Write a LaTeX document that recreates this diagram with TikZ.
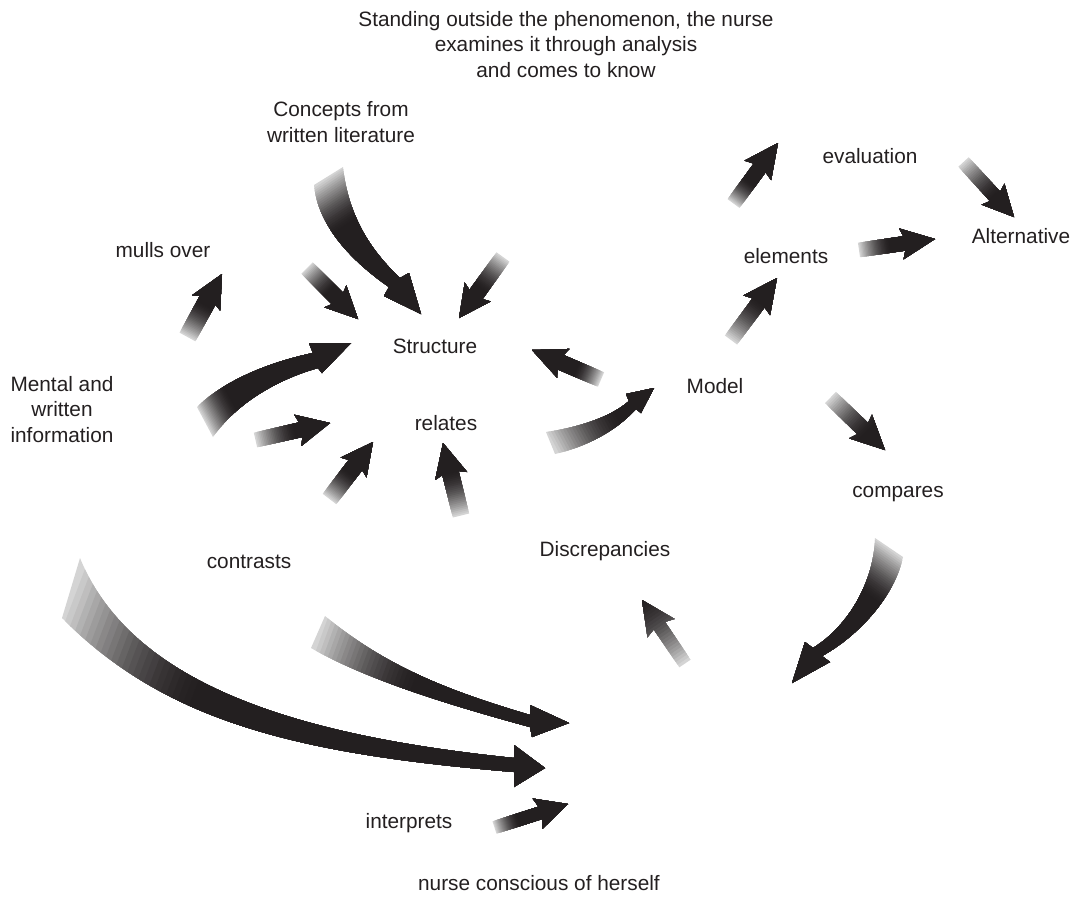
\documentclass[tikz,border=0pt]{standalone}
\usepackage{fontspec}
\setmainfont{Liberation Sans}
\usetikzlibrary{calc}
\definecolor{txtc}{RGB}{35,31,32}
\definecolor{arrdark}{RGB}{35,31,32}
\definecolor{arrlight}{RGB}{212,212,212}
\newcommand\lblfont{\fontsize{20.8}{25.5}\selectfont}
% gradient fill of a shape along the line tail->head, dark from fraction #3 on
\newcommand\shadefill[4]{%
  \begin{scope}
    \clip #4;
    \coordinate (gF) at ($(#1)!3!(#2)$);
    \foreach \i in {0,...,24}{%
      \pgfmathsetmacro\gt{#3*\i/24}%
      \pgfmathtruncatemacro\gc{100*(1-(1-\i/24)^1.6)}%
      \ifnum\i=0 \coordinate (gp) at ($(#1)!-1!(#2)$);\else\coordinate (gp) at ($(#1)!\gt!(#2)$);\fi
      \fill[arrdark!\gc!arrlight] ($(gp)!400pt!90:(gF)$) -- ($(gF)!400pt!-90:(gp)$) -- ($(gF)!400pt!90:(gp)$) -- ($(gp)!400pt!-90:(gF)$) -- cycle;
    }
  \end{scope}}
% straight arrow: tail, head, half shaft, half head, head length, dark fraction
\newcommand\sarrow[6]{%
  \pgfmathsetlengthmacro\snl{(#5-3)*1pt}%
  \coordinate (sN) at ($(#2)!\snl!(#1)$);
  \coordinate (sB) at ($(#2)!#5pt!(#1)$);
  \shadefill{#1}{#2}{#6}{($(#1)!#3pt!90:(#2)$) -- ($(sN)!#3pt!90:(#2)$) -- ($(sB)!#4pt!90:(#2)$) -- (#2) -- ($(sB)!#4pt!-90:(#2)$) -- ($(sN)!#3pt!-90:(#2)$) -- ($(#1)!#3pt!-90:(#2)$) -- cycle}}
\begin{document}
\begin{tikzpicture}[x=1pt,y=-1pt,
  lbl/.style={inner sep=0pt, text=txtc, font=\lblfont, align=center, anchor=base}]
\useasboundingbox (0,0) rectangle (1080,903);
% labels (base = baseline of the last line)
\node[lbl] (top) at (566,77) {Standing outside the phenomenon, the nurse\\examines it through analysis\\and comes to know};
\node[lbl] (concepts) at (341,142) {Concepts from\\written literature};
\node[lbl] (mulls) at (163,257) {mulls over};
\node[lbl] (structure) at (435,353) {Structure};
\node[lbl] (mental) at (62,442) {Mental and\\written\\information};
\node[lbl] (relates) at (446,430) {relates};
\node[lbl] (model) at (715,393) {Model};
\node[lbl] (elements) at (786,263) {elements};
\node[lbl] (evaluation) at (870,163) {evaluation};
\node[lbl] (alternative) at (1021,243) {Alternative};
\node[lbl] (compares) at (898,497) {compares};
\node[lbl] (contrasts) at (249,568) {contrasts};
\node[lbl] (discrepancies) at (605,556) {Discrepancies};
\node[lbl] (interprets) at (409,828) {interprets};
\node[lbl] (nurse) at (539,890) {nurse conscious of herself};
% straight arrows
\coordinate (a1t) at (187.5,337); \coordinate (a1h) at (222,274);
\sarrow{a1t}{a1h}{9}{16}{33}{0.5}
\coordinate (a2t) at (307,268); \coordinate (a2h) at (358,319);
\sarrow{a2t}{a2h}{8}{15.5}{32}{0.45}
\coordinate (a3t) at (503,257); \coordinate (a3h) at (459,318);
\sarrow{a3t}{a3h}{8}{16}{32}{0.5}
\coordinate (a4t) at (255.5,440); \coordinate (a4h) at (330,423);
\sarrow{a4t}{a4h}{7.5}{16}{33}{0.52}
\coordinate (a5t) at (329.5,499); \coordinate (a5h) at (373,442);
\sarrow{a5t}{a5h}{8.5}{16.3}{32}{0.45}
\coordinate (a6t) at (461,515.5); \coordinate (a6h) at (443,443);
\sarrow{a6t}{a6h}{8.4}{16.5}{34}{0.58}
\coordinate (a7t) at (601,379.5); \coordinate (a7h) at (532,350);
\sarrow{a7t}{a7h}{7.8}{15.7}{34}{0.35}
\coordinate (a8t) at (733.5,203.5); \coordinate (a8h) at (778,143);
\sarrow{a8t}{a8h}{7.4}{16.5}{34}{0.35}
\coordinate (a9t) at (731,340); \coordinate (a9h) at (777,278);
\sarrow{a9t}{a9h}{7.6}{16.6}{34}{0.6}
\coordinate (a10t) at (963.5,162); \coordinate (a10h) at (1014,217);
\sarrow{a10t}{a10h}{7}{15.5}{31}{0.6}
\coordinate (a11t) at (859,250); \coordinate (a11h) at (935,239);
\sarrow{a11t}{a11h}{7.3}{15.6}{34}{0.4}
\coordinate (a12t) at (830.5,397.5); \coordinate (a12h) at (885,450);
\sarrow{a12t}{a12h}{7.8}{16.5}{34}{0.65}
\coordinate (a13t) at (685,663.5); \coordinate (a13h) at (642,600);
\sarrow{a13t}{a13h}{6.8}{16.4}{34}{1.0}
\coordinate (a14t) at (494.5,827.5); \coordinate (a14h) at (568,804);
\sarrow{a14t}{a14h}{6.5}{16}{32}{0.32}
% curved arrows
\coordinate (c1t) at (328.5,176); \coordinate (c1h) at (421,314);
\shadefill{c1t}{c1h}{0.3}{(314,185) .. controls (318,225) and (350,260) .. (389,287) -- (384,296) -- (c1h) -- (409,273) -- (400,278) .. controls (370,250) and (348,215) .. (343,167) -- cycle}
\coordinate (c2t) at (205,422); \coordinate (c2h) at (351,343);
\shadefill{c2t}{c2h}{0.2}{(197,407) .. controls (225,380) and (270,362) .. (313,353) -- (309,343) -- (c2h) -- (322,373) -- (318,368) .. controls (275,380) and (235,405) .. (213,437) -- cycle}
\coordinate (c3t) at (71,588); \coordinate (c3h) at (545,768);
\shadefill{c3t}{c3h}{0.3}{(80,558) .. controls (132,686) and (300,736) .. (514,758) -- (514,745) -- (c3h) -- (514,787) -- (514,772) .. controls (300,754) and (167,723) .. (62,618) -- cycle}
\coordinate (c4t) at (318,632); \coordinate (c4h) at (569,723);
\shadefill{c4t}{c4h}{0.4}{(325,616) .. controls (389,669) and (453,692) .. (530,715) -- (530,705) -- (c4h) -- (532,737) -- (530,727) .. controls (453,706) and (367,680) .. (311,648) -- cycle}
\coordinate (c5t) at (550.5,443); \coordinate (c5h) at (654,388);
\shadefill{c5t}{c5h}{0.6}{(546,432) .. controls (575,428) and (610,418) .. (629,401) -- (626,394) -- (c5h) -- (641,413) -- (636,409) .. controls (615,432) and (585,447) .. (555,454) -- cycle}
\coordinate (c6t) at (889,547.5); \coordinate (c6h) at (792,683);
\shadefill{c6t}{c6h}{0.3}{(875,538) -- (903,557) .. controls (895,595) and (860,635) .. (822,656) -- (830,662) -- (c6h) -- (805,642) -- (813,648) .. controls (850,625) and (874,580) .. (875,538) -- cycle}
\end{tikzpicture}
\end{document}
